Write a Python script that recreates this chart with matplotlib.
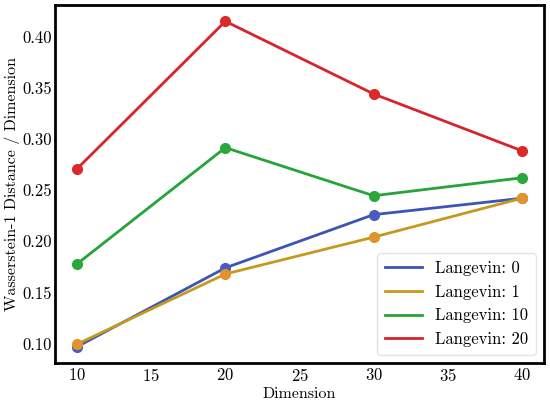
import matplotlib
matplotlib.use('Agg')

import matplotlib.pyplot as plt

plt.rcParams['font.family'] = 'serif'
plt.rcParams['font.serif'] = ['cmr10', 'DejaVu Serif']
plt.rcParams['mathtext.fontset'] = 'cm'
plt.rcParams['axes.formatter.use_mathtext'] = True

dims = [10, 20, 30, 40]
steps = [0, 1, 10, 20]
w1_langevin_0 = [0.097, 0.174, 0.226, 0.242]
w1_langevin_1 = [0.0995, 0.168, 0.204, 0.242]
w1_langevin_10 = [0.178, 0.2915, 0.2445, 0.262]
w1_langevin_20 = [0.271, 0.415, 0.344, 0.2885]

series = [w1_langevin_0, w1_langevin_1, w1_langevin_10, w1_langevin_20]
line_colors = ['#3c55b4', '#c59a1c', '#26a33a', '#d8232a']
marker_colors = ['#4a5cc0', '#e0942a', '#2aa83c', '#dc2a2a']

fig, ax = plt.subplots(figsize=(5.5, 4.01), dpi=100)

for vals, step, lc, mc in zip(series, steps, line_colors, marker_colors):
    ax.plot(dims, vals, color=lc, lw=2, label=f'Langevin: {step}')
    ax.plot(dims, vals, 'o', color=mc, ms=7, zorder=3)

ax.set_xticks([10, 15, 20, 25, 30, 35, 40])
ax.set_yticks([0.10, 0.15, 0.20, 0.25, 0.30, 0.35, 0.40])
ax.set_yticklabels(['0.10', '0.15', '0.20', '0.25', '0.30', '0.35', '0.40'])
ax.tick_params(length=0, labelsize=12)
ax.tick_params(axis='y', pad=2)
ax.tick_params(axis='x', pad=3)
for sp in ax.spines.values():
    sp.set_linewidth(2)
    sp.set_color('black')

ax.set_xlabel('Dimension', fontsize=11.5, labelpad=2)
ax.set_ylabel('Wasserstein-1 Distance / Dimension', fontsize=11.5, labelpad=2)

leg = ax.legend(loc='lower right', fontsize=12, handlelength=2.2, framealpha=0.8,
                edgecolor='#dddddd', borderpad=0.45)

fig.subplots_adjust(left=0.1, right=0.989, top=0.9875, bottom=0.095)
fig.savefig('out.png', dpi=100, facecolor='white')
